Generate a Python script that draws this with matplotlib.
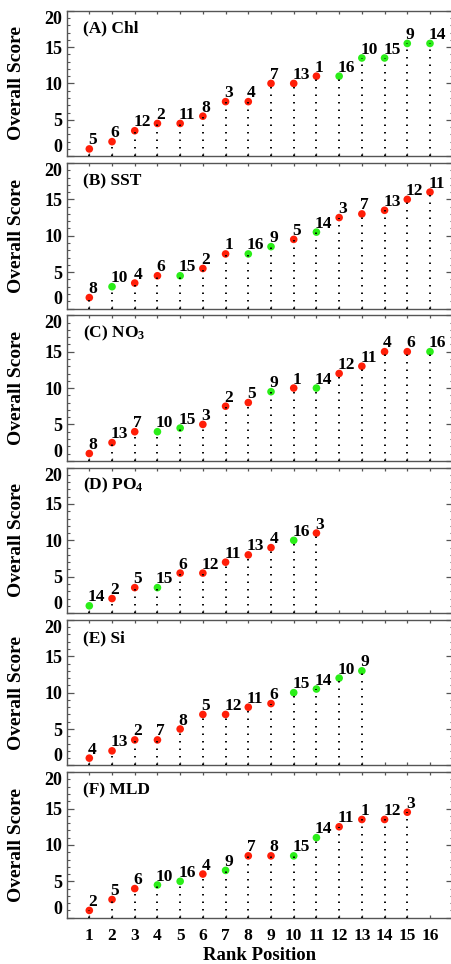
import matplotlib
matplotlib.use("Agg")
import matplotlib.pyplot as plt
import numpy as np

plt.rcParams['font.family'] = ['Liberation Serif', 'DejaVu Serif']
plt.rcParams['font.weight'] = 'bold'
plt.rcParams['mathtext.fontset'] = 'custom'
plt.rcParams['mathtext.rm'] = 'Liberation Serif:bold'
plt.rcParams['mathtext.bf'] = 'Liberation Serif:bold'
plt.rcParams['mathtext.it'] = 'Liberation Serif:bold'

panel_titles = ["(A) Chl", "(B) SST", r"(C) NO$_{3}$", r"(D) PO$_{4}$", "(E) Si", "(F) MLD"]

chl_models = [5, 6, 12, 2, 11, 8, 3, 4, 7, 13, 1, 16, 10, 15, 9, 14]
chl_scores = [1, 2, 3.5, 4.5, 4.5, 5.5, 7.5, 7.5, 10, 10, 11, 11, 13.5, 13.5, 15.5, 15.5]
chl_green = [16, 10, 15, 9, 14]

sst_models = [8, 10, 4, 6, 15, 2, 1, 16, 9, 5, 14, 3, 7, 13, 12, 11]
sst_scores = [1.5, 3, 3.5, 4.5, 4.5, 5.5, 7.5, 7.5, 8.5, 9.5, 10.5, 12.5, 13, 13.5, 15, 16]
sst_green = [10, 15, 16, 9, 14]

no3_models = [8, 13, 7, 10, 15, 3, 2, 5, 9, 1, 14, 12, 11, 4, 6, 16]
no3_scores = [1, 2.5, 4, 4, 4.5, 5, 7.5, 8, 9.5, 10, 10, 12, 13, 15, 15, 15]
no3_green = [10, 15, 9, 14, 16]

po4_models = [14, 2, 5, 15, 6, 12, 11, 13, 4, 16, 3]
po4_scores = [1, 2, 3.5, 3.5, 5.5, 5.5, 7, 8, 9, 10, 11]
po4_green = [14, 15, 16]

si_models = [4, 13, 2, 7, 8, 5, 12, 11, 6, 15, 14, 10, 9]
si_scores = [1, 2, 3.5, 3.5, 5, 7, 7, 8, 8.5, 10, 10.5, 12, 13]
si_green = [15, 14, 10, 9]

mld_models = [2, 5, 6, 10, 16, 4, 9, 7, 8, 15, 14, 11, 1, 12, 3]
mld_scores = [1, 2.5, 4, 4.5, 5, 6, 6.5, 8.5, 8.5, 8.5, 11, 12.5, 13.5, 13.5, 14.5]
mld_green = [10, 16, 9, 15, 14]

panels = [
    (chl_models, chl_scores, chl_green),
    (sst_models, sst_scores, sst_green),
    (no3_models, no3_scores, no3_green),
    (po4_models, po4_scores, po4_green),
    (si_models, si_scores, si_green),
    (mld_models, mld_scores, mld_green),
]

rank_ticks = list(range(1, 17))
y_ticks = [0, 5, 10, 15, 20]

RED = '#ff1e08'
GREEN = '#2aee18'
SPINE = '#555555'

W, H = 452, 964
fig = plt.figure(figsize=(W / 100, H / 100), dpi=100)

left_px = 66.6
width_px = 386.1
height_px = 145.5
step_px = 152.3
top0 = 10.7

axes = []
for i, (models, scores, green) in enumerate(panels):
    top = top0 + i * step_px
    bottom = top + height_px
    ax = fig.add_axes([left_px / W, 1 - bottom / H, width_px / W, height_px / H])
    axes.append(ax)
    ranks = np.arange(1, len(scores) + 1)
    colors = [GREEN if m in green else RED for m in models]
    ax.scatter(ranks, scores, s=30, c=colors, edgecolors='none', zorder=3)
    ax.vlines(ranks, 0, scores, colors='black', linewidth=1.35,
              linestyles=[(0, (0.8, 3.2))], zorder=4)
    for r, s, m in zip(ranks, scores, models):
        ax.annotate(str(m), (r, s), xytext=(-1, 3.2), textcoords='offset points',
                    ha='left', va='baseline', fontsize=12.5, fontweight='bold', zorder=5)
    ax.set_xlim(0, 17)
    ax.set_ylim(0, 20)
    ax.set_xticks(rank_ticks)
    ax.set_yticks(y_ticks)
    ax.set_yticks(np.arange(0, 21, 1), minor=True)
    ax.tick_params(axis='y', which='major', direction='in', length=5, width=0.9,
                   left=True, right=True, labelsize=13, pad=3, color=SPINE)
    ax.tick_params(axis='y', which='minor', direction='in', length=2.5, width=0.8,
                   left=True, right=True, color=SPINE)
    ax.tick_params(axis='x', which='major', direction='in', length=2.5, width=0.9,
                   top=True, bottom=True, labelsize=12.5, pad=7.5, color=SPINE)
    if i < len(panels) - 1:
        ax.tick_params(axis='x', labelbottom=False)
    for sp in ax.spines.values():
        sp.set_color(SPINE)
        sp.set_linewidth(1.0)
    ylabs = ax.get_yticklabels()
    for lab in ylabs:
        lab.set_fontweight('bold')
    ylabs[0].set_verticalalignment('bottom')
    ylabs[-1].set_verticalalignment('top')
    ax.set_ylabel("Overall Score", fontsize=14, fontweight='bold')
    ax.yaxis.set_label_coords(-0.108, 0.5)
    ax.text(0.043, 0.875, panel_titles[i], transform=ax.transAxes, ha='left',
            va='center', fontsize=12.5, fontweight='bold')

axes[-1].set_xlabel("Rank Position", fontsize=13.5, fontweight='bold', labelpad=2)
for lab in axes[-1].get_xticklabels():
    lab.set_fontweight('bold')

fig.savefig("out.png", dpi=100)
